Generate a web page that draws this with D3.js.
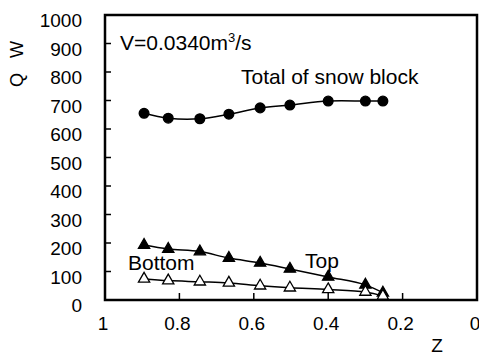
<!DOCTYPE html>
<html>
<head>
<meta charset="utf-8" />
<title></title>
<script src="https://cdn.jsdelivr.net/npm/d3@7"></script>
<style>
  body { margin: 0; background: #fff; }
  text { font-family: "Liberation Sans", Arial, sans-serif; fill: #000; }
</style>
</head>
<body>
<div id="chart"></div>
<script>
// data
var zVals = [0.895, 0.83, 0.745, 0.667, 0.583, 0.503, 0.40, 0.30, 0.253];
var totalQ = [655, 638, 636, 652, 674, 684, 698, 698, 698];
var topQ = [193, 179, 170, 147, 130, 109, 81, 53, 25];
var bottomQ = [74, 68, 64, 60, 50, 43, 37, 28, 14];
var xTicks = [1, 0.8, 0.6, 0.4, 0.2, 0];
var yTicks = [0, 100, 200, 300, 400, 500, 600, 700, 800, 900, 1000];

var W = 479, H = 356;
var pLeft = 105, pRight = 477, pTop = 15, pBottom = 300;

var svg = d3.select("#chart").append("svg")
    .attr("width", W).attr("height", H);

var x = d3.scaleLinear().domain([1, 0]).range([pLeft, pRight]);
var y = d3.scaleLinear().domain([0, 1000]).range([pBottom, pTop]);

// frame
svg.append("rect")
    .attr("x", pLeft).attr("y", pTop)
    .attr("width", pRight - pLeft).attr("height", pBottom - pTop)
    .attr("fill", "none").attr("stroke", "#000").attr("stroke-width", 2.5);

// inward ticks
svg.append("g").selectAll("line").data(yTicks.slice(1, -1)).enter().append("line")
    .attr("x1", pLeft).attr("x2", pLeft + 6)
    .attr("y1", function (d) { return y(d); }).attr("y2", function (d) { return y(d); })
    .attr("stroke", "#000").attr("stroke-width", 1.5);
svg.append("g").selectAll("line").data(xTicks.slice(1, -1)).enter().append("line")
    .attr("x1", function (d) { return x(d); }).attr("x2", function (d) { return x(d); })
    .attr("y1", pBottom).attr("y2", pBottom - 7)
    .attr("stroke", "#000").attr("stroke-width", 1.5);

// tick labels
svg.append("g").selectAll("text").data(yTicks).enter().append("text")
    .attr("x", 82).attr("y", function (d) { return y(d) + 12; })
    .attr("text-anchor", "end").style("font-size", "19px")
    .text(function (d) { return d; });
svg.append("g").selectAll("text").data(xTicks).enter().append("text")
    .attr("x", function (d) { return x(d) - 2; }).attr("y", 330)
    .attr("text-anchor", "middle").style("font-size", "19px")
    .text(function (d) { return d; });

// axis titles
svg.append("text")
    .attr("transform", "translate(23,64) rotate(-90)")
    .attr("text-anchor", "middle").style("font-size", "18px")
    .attr("xml:space", "preserve")
    .text("Q   W");
svg.append("text").attr("x", 437).attr("y", 352)
    .attr("text-anchor", "middle").style("font-size", "19px").text("Z");

// curves
var line = d3.line()
    .x(function (d) { return x(d[0]); })
    .y(function (d) { return y(d[1]); })
    .curve(d3.curveCatmullRom);

function series(vals, marker, fill) {
    var pts = zVals.map(function (z, i) { return [z, vals[i]]; });
    svg.append("path").datum(pts)
        .attr("d", line).attr("fill", "none")
        .attr("stroke", "#000").attr("stroke-width", 1.5);
    svg.append("g").selectAll("path").data(pts).enter().append("path")
        .attr("transform", function (d) { return "translate(" + x(d[0]) + "," + y(d[1]) + ")"; })
        .attr("d", d3.symbol().type(marker).size(marker === d3.symbolCircle ? 75 : 55))
        .attr("fill", fill).attr("stroke", "#000").attr("stroke-width", 1.3);
}
series(totalQ, d3.symbolCircle, "#000");
series(topQ, d3.symbolTriangle, "#000");
series(bottomQ, d3.symbolTriangle, "#fff");

// annotations
var v = svg.append("text").attr("x", 120).attr("y", 50).style("font-size", "21px");
v.append("tspan").text("V=0.0340m");
v.append("tspan").attr("dy", -8).style("font-size", "13px").text("3");
v.append("tspan").attr("dy", 8).text("/s");
svg.append("text").attr("x", 241).attr("y", 84).style("font-size", "21px").text("Total of snow block");
svg.append("text").attr("x", 128).attr("y", 270).style("font-size", "21px").text("Bottom");
svg.append("text").attr("x", 305).attr("y", 268).style("font-size", "21px").text("Top");
</script>
</body>
</html>
